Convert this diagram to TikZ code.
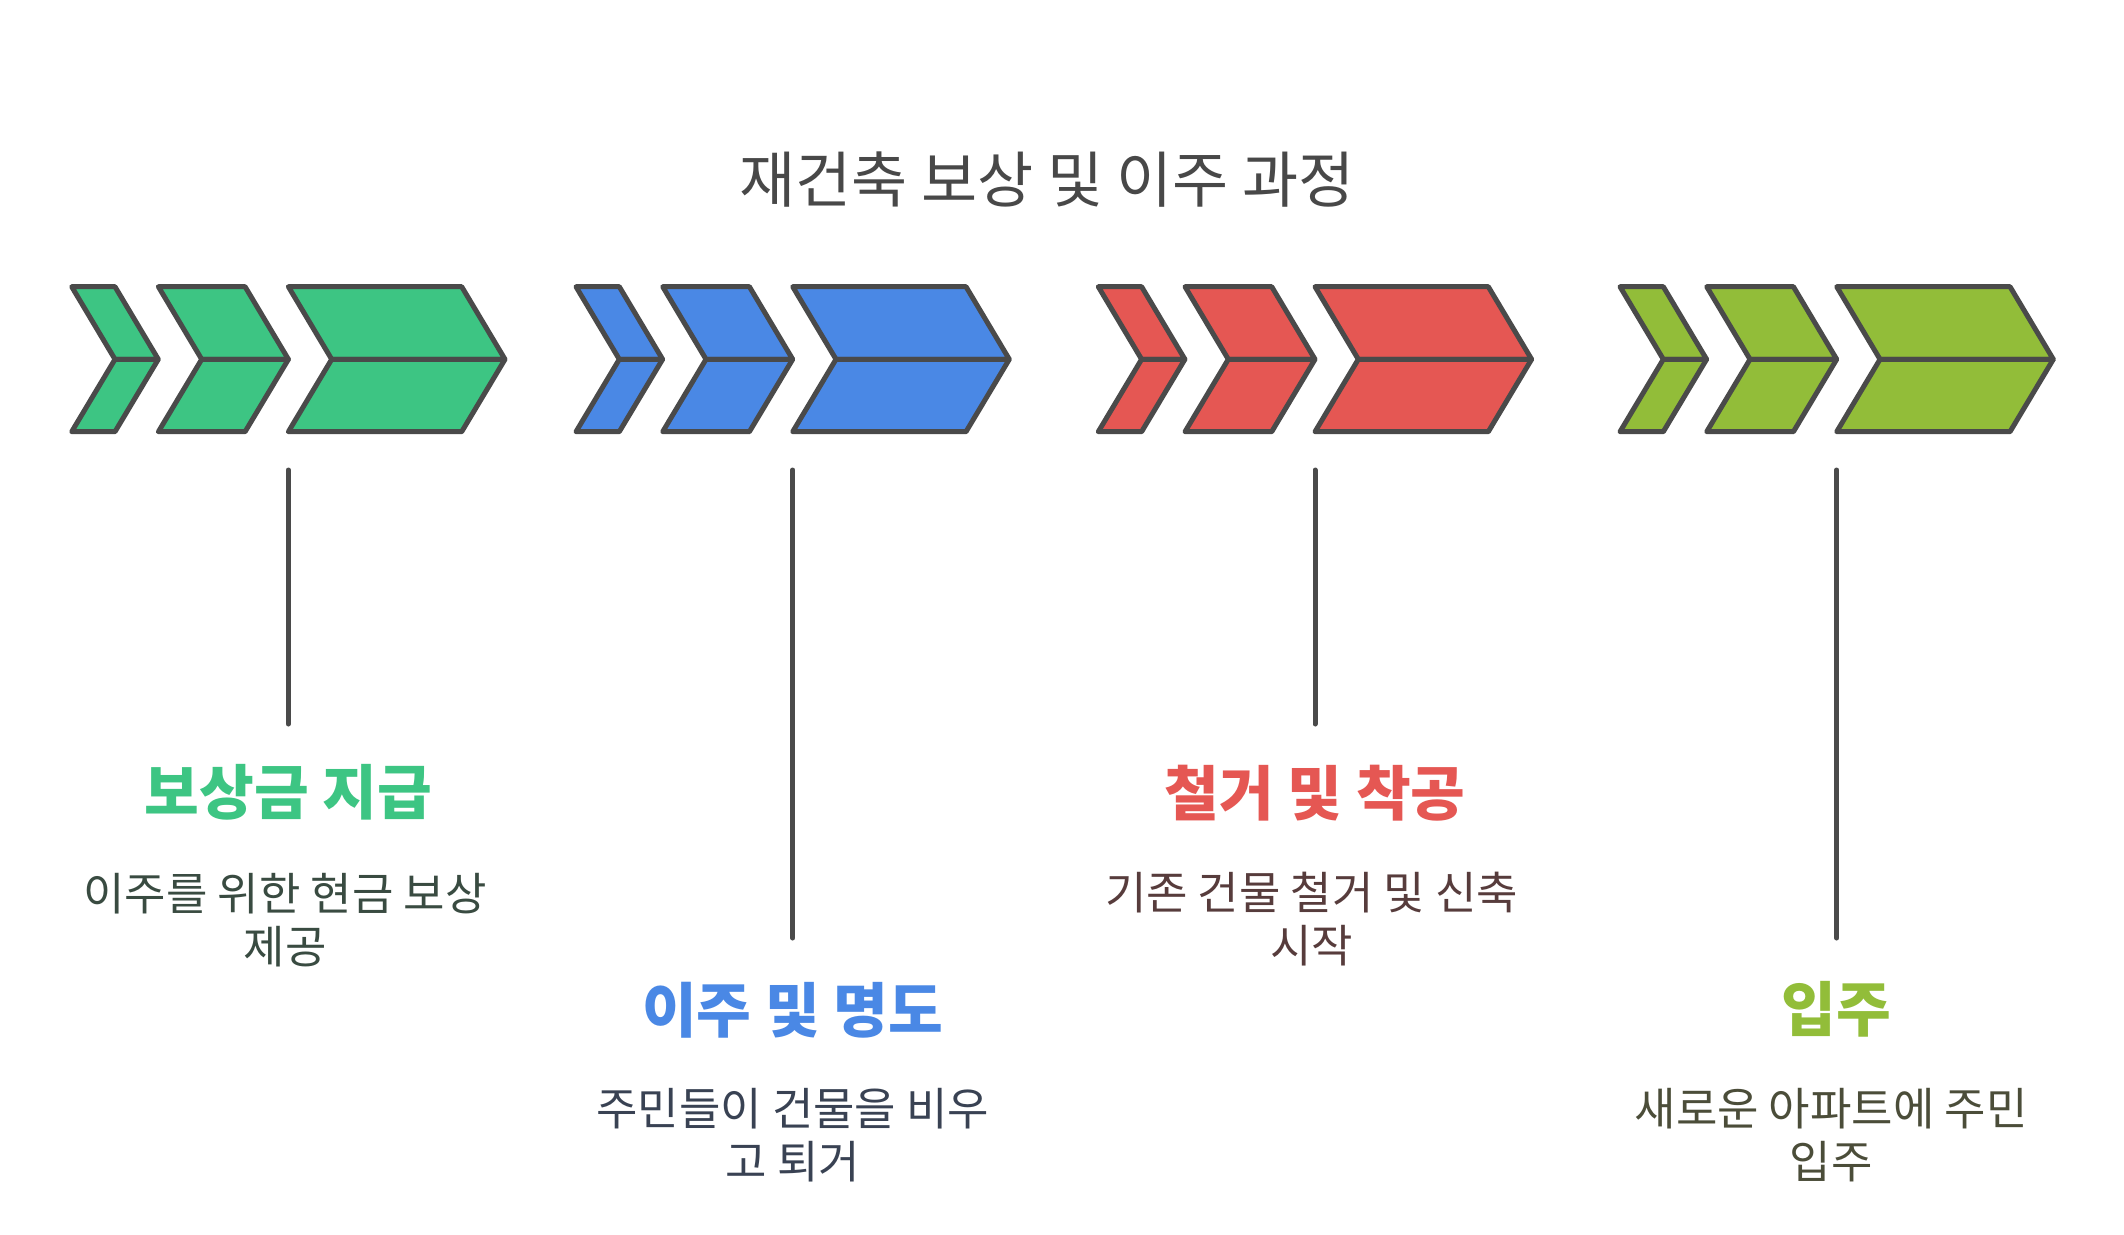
\documentclass[tikz,border=0pt]{standalone}
\usepackage{fontspec}
\newfontfamily\krfont{Noto Sans CJK KR}
\definecolor{strokegray}{HTML}{4A4A4A}
\definecolor{cgreen}{HTML}{3DC583}
\definecolor{cblue}{HTML}{4A88E5}
\definecolor{cred}{HTML}{E55753}
\definecolor{colive}{HTML}{92BD39}
\definecolor{ctitle}{HTML}{484848}
\definecolor{dgreen}{HTML}{394B41}
\definecolor{dblue}{HTML}{394253}
\definecolor{dred}{HTML}{573C3C}
\definecolor{dolive}{HTML}{4B4D39}
\newcommand\chevgroup[2]{%
  \foreach \w/\off in {43.3/0,86.7/86.7,173.3/216.7}{%
    \pgfmathsetmacro\L{#1+\off}%
    \filldraw[chevpart,fill=#2] (\L,286.7) -- ++(\w,0) -- ++(43.3,72.6) -- ++(-\w,0) -- cycle;
    \filldraw[chevpart,fill=#2] (\L+43.3,359.3) -- ++(\w,0) -- ++(-43.3,72.4) -- ++(-\w,0) -- cycle;
  }%
}
\tikzset{
  chevpart/.style={draw=strokegray,line width=5pt,line join=round},
  conn/.style={draw=strokegray,line width=5pt,line cap=round},
  titletext/.style={font=\krfont\fontsize{61}{72}\selectfont,text=ctitle,inner sep=0pt,anchor=base},
  headtext/.style={font=\krfont\bfseries\fontsize{59.5}{70}\selectfont,inner sep=0pt,anchor=base},
  desctext/.style={font=\krfont\fontsize{45}{53}\selectfont,inner sep=0pt,anchor=base,align=center},
}
\begin{document}
\begin{tikzpicture}[x=1pt,y=-1pt]
\useasboundingbox[fill=white] (0,0) rectangle (2124,1234);
\node[titletext] (title) at (1047,202.4) {재건축 보상 및 이주 과정};
\chevgroup{71.7}{cgreen}
\chevgroup{576}{cblue}
\chevgroup{1098.3}{cred}
\chevgroup{1620}{colive}
% connectors
\coordinate (gtop) at (288.4,470);
\coordinate (gbot) at (288.4,724);
\coordinate (btop) at (792.7,470);
\coordinate (bbot) at (792.7,938);
\coordinate (rtop) at (1315,470);
\coordinate (rbot) at (1315,724);
\coordinate (otop) at (1836.7,470);
\coordinate (obot) at (1836.7,938);
\draw[conn] (gtop) -- (gbot);
\draw[conn] (btop) -- (bbot);
\draw[conn] (rtop) -- (rbot);
\draw[conn] (otop) -- (obot);
% labels
\node[headtext,text=cgreen] (h1) at (288.4,814) {보상금 지급};
\node[desctext,text=dgreen] (d1) at (285,963.5) {이주를 위한 현금 보상\\제공};
\node[headtext,text=cblue] (h2) at (792.7,1032) {이주 및 명도};
\node[desctext,text=dblue] (d2) at (792.7,1178.5) {주민들이 건물을 비우\\고 퇴거};
\node[headtext,text=cred] (h3) at (1315,815.3) {철거 및 착공};
\node[desctext,text=dred] (d3) at (1311.5,962) {기존 건물 철거 및 신축\\시작};
\node[headtext,text=colive] (h4) at (1836.7,1031.7) {입주};
\node[desctext,text=dolive] (d4) at (1831,1178) {새로운 아파트에 주민\\입주};
\end{tikzpicture}
\end{document}
